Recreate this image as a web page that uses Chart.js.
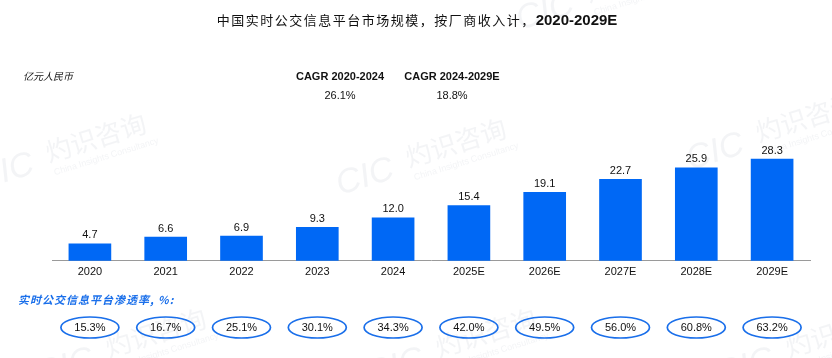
<!DOCTYPE html>
<html>
<head>
<meta charset="utf-8">
<script src="https://cdn.jsdelivr.net/npm/chart.js@4.4.1/dist/chart.umd.min.js"></script>
<style>
  html, body { margin: 0; padding: 0; background: #fff; }
  #wrap { position: relative; width: 832px; height: 358px; }
</style>
</head>
<body>
<div id="wrap"><canvas id="marketChart" width="832" height="358"></canvas></div>
<script>
const years = ['2020', '2021', '2022', '2023', '2024', '2025E', '2026E', '2027E', '2028E', '2029E'];
const marketSize = [4.7, 6.6, 6.9, 9.3, 12.0, 15.4, 19.1, 22.7, 25.9, 28.3];
const penetration = ['15.3%', '16.7%', '25.1%', '30.1%', '34.3%', '42.0%', '49.5%', '56.0%', '60.8%', '63.2%'];
const cagrLabels = ['CAGR 2020-2024', 'CAGR 2024-2029E'];
const cagrValues = ['26.1%', '18.8%'];

const barBlue = '#0068F5';
const ringBlue = '#1A6FEA';
const cjk = '"Noto Sans CJK SC", sans-serif';
const latin = '"Liberation Sans", Arial, sans-serif';

// faint company watermark, drawn under the bars
function watermark(ctx, x, y) {
    ctx.save();
    ctx.translate(x, y);
    ctx.rotate(-0.3);
    ctx.fillStyle = 'rgba(200, 206, 216, 0.22)';
    ctx.font = 'italic 34px ' + latin;
    ctx.fillText('CIC', 0, 0);
    ctx.font = '26px ' + cjk;
    ctx.fillText('灼识咨询', 74, -6);
    ctx.font = '9px ' + latin;
    ctx.fillText('China Insights Consultancy', 76, 8);
    ctx.restore();
}

const extras = {
    id: 'extras',
    beforeDatasetsDraw(chart) {
        const ctx = chart.ctx;
        ctx.save();
        ctx.textBaseline = 'alphabetic';
        ctx.textAlign = 'left';
        [[-20, 190], [340, 195], [690, 170], [520, 30], [40, 385], [370, 385], [720, 385]].forEach(function(p) {
            watermark(ctx, p[0], p[1]);
        });
        ctx.restore();
    },
    afterDatasetsDraw(chart) {
        const ctx = chart.ctx;
        const x = chart.scales.x;
        const meta = chart.getDatasetMeta(0);
        ctx.save();

        // value labels above bars
        ctx.fillStyle = '#111';
        ctx.font = '11px ' + latin;
        ctx.textAlign = 'center';
        ctx.textBaseline = 'bottom';
        meta.data.forEach(function(bar, i) {
            ctx.fillText(marketSize[i].toFixed(1), bar.x, bar.y - 3);
        });

        // title
        ctx.textBaseline = 'middle';
        ctx.textAlign = 'left';
        const t1 = '中国实时公交信息平台市场规模，按厂商收入计，';
        const t2 = '2020-2029E';
        ctx.letterSpacing = '1.5px';
        ctx.font = '13px ' + cjk;
        const w1 = ctx.measureText(t1).width;
        ctx.letterSpacing = '0px';
        ctx.font = 'bold 15px ' + latin;
        const w2 = ctx.measureText(t2).width;
        const tx = 417 - (w1 + w2) / 2;
        ctx.fillStyle = '#111';
        ctx.letterSpacing = '1.5px';
        ctx.font = '13px ' + cjk;
        ctx.fillText(t1, tx, 20);
        ctx.letterSpacing = '0px';
        ctx.font = 'bold 15px ' + latin;
        ctx.fillText(t2, tx + w1, 21);

        // unit
        ctx.font = 'italic 10px ' + cjk;
        ctx.fillText('亿元人民币', 23, 76);

        // CAGR block
        ctx.textAlign = 'center';
        const cx = [340, 452];
        cagrLabels.forEach(function(lbl, i) {
            ctx.font = 'bold 11px ' + latin;
            ctx.fillText(lbl, cx[i], 77);
            ctx.font = '11px ' + latin;
            ctx.fillText(cagrValues[i], cx[i], 96);
        });

        // penetration row
        ctx.textAlign = 'left';
        ctx.fillStyle = ringBlue;
        ctx.letterSpacing = '1px';
        ctx.font = 'italic bold 11px ' + cjk;
        ctx.fillText('实时公交信息平台渗透率, %:', 18, 300);
        ctx.letterSpacing = '0px';

        ctx.textAlign = 'center';
        penetration.forEach(function(p, i) {
            const px = x.getPixelForValue(i);
            ctx.beginPath();
            ctx.ellipse(px, 327.5, 29, 10.5, 0, 0, Math.PI * 2);
            ctx.strokeStyle = ringBlue;
            ctx.lineWidth = 1.7;
            ctx.stroke();
            ctx.fillStyle = '#111';
            ctx.font = '11px ' + latin;
            ctx.fillText(p, px, 328);
        });
        ctx.restore();
    }
};

new Chart(document.getElementById('marketChart').getContext('2d'), {
    type: 'bar',
    data: {
        labels: years,
        datasets: [{
            data: marketSize,
            backgroundColor: barBlue,
            barThickness: 42
        }]
    },
    options: {
        responsive: false,
        animation: false,
        layout: { padding: { left: 52, right: 22, top: 110, bottom: 74 } },
        plugins: { legend: { display: false }, tooltip: { enabled: false } },
        scales: {
            x: {
                grid: { display: false, drawTicks: false },
                border: { display: true, color: '#9a9a9a', width: 1 },
                ticks: { color: '#111', padding: 5, font: { size: 11, family: latin } }
            },
            y: { display: false, min: 0, max: 42 }
        }
    },
    plugins: [extras]
});
</script>
</body>
</html>
